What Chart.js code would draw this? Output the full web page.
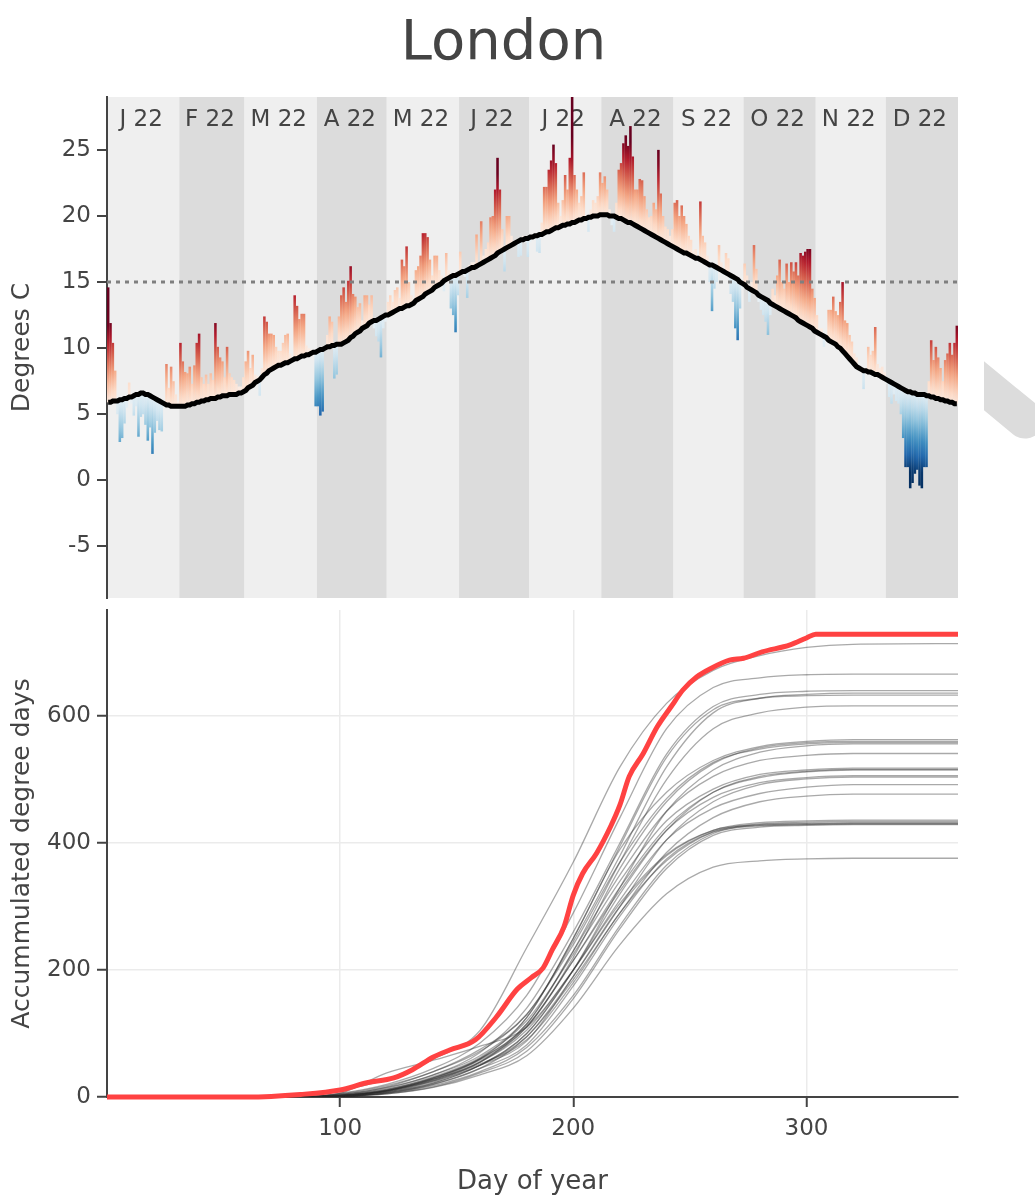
<!DOCTYPE html>
<html>
<head>
<meta charset="utf-8">
<title>London</title>
<script src="https://cdn.jsdelivr.net/npm/chart.js@4.4.1/dist/chart.umd.min.js"></script>
<style>
    html, body { margin: 0; padding: 0; background: #fff; }
    #wrap { position: relative; width: 1035px; height: 1198px; overflow: hidden; }
    #title { position: absolute; left: 0; top: 10px; width: 1007px; text-align: center;
             font: 56px/60px "DejaVu Sans", Verdana, sans-serif; color: #444; }
    #topChart { position: absolute; left: 0; top: 0; }
    #bottomChart { position: absolute; left: 0; top: 600px; }
    #mark { position: absolute; left: 0; top: 0; pointer-events: none; }
</style>
</head>
<body>
<div id="wrap">
    <canvas id="topChart" width="1035" height="600"></canvas>
    <canvas id="bottomChart" width="1035" height="598"></canvas>
    <div id="title">London</div>
    <svg id="mark" width="1035" height="1198">
        <defs><clipPath id="cut"><rect x="984" y="0" width="60" height="1198"></rect></clipPath></defs>
        <line x1="960" y1="366" x2="1025" y2="419.5" stroke="#dcdcdc" stroke-width="38" stroke-linecap="round" clip-path="url(#cut)"></line>
    </svg>
</div>
<script>
// London 2022 - daily temperature vs normal (top) and accumulated degree days (bottom)
var FONT = '"DejaVu Sans", Verdana, sans-serif';

// ---- top panel data ----
var monthLabels = ['J 22', 'F 22', 'M 22', 'A 22', 'M 22', 'J 22', 'J 22', 'A 22', 'S 22', 'O 22', 'N 22', 'D 22'];
var monthStarts = [1, 32, 60, 91, 121, 152, 182, 213, 244, 274, 305, 335, 366];
var tempTicks = [-5, 0, 5, 10, 15, 20, 25];
var refLevel = 15;

// daily temperature 2022 (deg C), day 1..365
var temps = [
    14.6, 11.9, 10.4, 8.3, 5.0, 2.9, 3.2,
    4.3, 5.5, 7.4, 5.8, 4.9, 5.6, 3.3,
    4.8, 5.0, 4.2, 3.0, 4.0, 2.0, 3.6,
    4.5, 3.8, 3.7, 5.5, 8.8, 7.0, 8.6,
    7.5, 6.5, 6.0, 10.4, 9.0, 8.2, 8.1,
    8.6, 7.3, 8.7, 10.4, 11.1, 7.8, 7.3,
    8.0, 7.3, 8.1, 7.6, 11.9, 10.1, 9.3,
    9.0, 7.8, 10.1, 8.1, 7.8, 7.6, 7.3,
    7.1, 7.1, 7.8, 9.0, 9.8, 8.5, 9.5,
    8.0, 7.9, 6.4, 8.5, 12.4, 12.0, 11.1,
    11.1, 11.0, 10.1, 9.8, 9.8, 10.4, 11.0,
    11.1, 9.6, 9.4, 14.0, 13.2, 12.2, 12.6,
    12.6, 10.2, 10.0, 9.9, 9.5, 5.6, 5.6,
    4.9, 5.2, 9.8, 11.0, 12.4, 12.0, 7.7,
    8.0, 12.4, 14.0, 14.6, 13.5, 15.1, 16.2,
    14.1, 13.9, 13.1, 13.4, 12.1, 14.0, 14.0,
    13.3, 14.0, 11.5, 10.9, 10.5, 9.3, 11.5,
    12.0, 13.5, 14.0, 13.5, 14.4, 14.6, 13.8,
    16.7, 16.2, 17.7, 15.0, 14.0, 13.8, 15.9,
    16.2, 17.0, 18.7, 18.7, 18.4, 16.7, 15.5,
    17.0, 17.0, 15.9, 15.5, 14.3, 17.2, 15.9,
    13.0, 12.5, 11.2, 14.0, 17.3, 16.0, 15.4,
    13.8, 16.3, 16.5, 16.5, 18.6, 16.0, 19.6,
    17.0, 17.5, 18.0, 19.9, 20.0, 22.0, 24.4,
    22.0, 19.0, 15.8, 20.0, 20.0, 18.5, 18.0,
    18.2, 16.9, 17.0, 18.5, 18.0, 16.9, 18.0,
    18.6, 18.2, 17.3, 17.2, 19.5, 22.2, 22.2,
    23.5, 24.2, 25.4, 24.0, 21.0, 20.0, 21.2,
    23.1, 22.0, 24.4, 29.3, 23.1, 22.0, 21.0,
    21.5, 23.3, 20.0, 18.8, 20.5, 21.2, 21.0,
    21.5, 23.3, 22.5, 23.0, 22.0, 20.5, 19.3,
    18.8, 21.0, 23.5, 24.0, 25.5, 26.1, 25.3,
    26.8, 24.5, 22.0, 22.0, 22.8, 22.7, 21.5,
    20.5, 19.9, 20.0, 21.0, 20.5, 25.0, 21.7,
    20.0, 19.2, 19.0, 18.5, 19.0, 21.0, 21.2,
    20.0, 20.8, 20.0, 19.4, 18.5, 18.2, 17.4,
    17.5, 17.0, 21.1, 18.5, 18.0, 17.0, 15.0,
    12.8, 14.5, 15.0, 17.8, 16.5, 15.5, 17.2,
    16.8, 14.1, 13.5, 11.5, 10.6, 13.0, 14.5,
    16.4, 15.5, 13.5, 15.0, 17.8, 16.0, 13.5,
    12.9, 12.5, 12.0, 11.0, 12.5, 14.5, 14.0,
    15.5, 16.7, 15.0, 14.5, 16.4, 15.0, 16.5,
    15.8, 16.5, 15.5, 17.2, 17.0, 17.3, 17.5,
    17.5, 14.5, 13.8, 12.5, 11.5, 11.5, 10.1,
    10.5, 12.9, 12.9, 13.9, 12.8, 12.5, 13.5,
    15.0, 12.1, 11.9, 11.0, 10.5, 9.6, 9.3,
    8.5, 8.6, 6.9, 8.5, 10.1, 9.5, 9.8,
    11.6, 8.8, 8.5, 8.6, 8.2, 7.3, 6.3,
    5.8, 6.5, 6.0, 5.8, 5.0, 3.2, 1.0,
    1.0, -0.6, -0.2, 0.5, 0.8, -0.4, -0.6,
    1.0, 1.0, 7.5, 10.6, 9.1, 10.1, 9.3,
    8.5, 7.5, 9.1, 9.6, 10.4, 9.5, 10.4,
    11.7
];

// long-term normal for each day (black line)
var normal = [
    5.9, 5.9, 6.0, 6.0, 6.0, 6.1, 6.1,
    6.2, 6.2, 6.3, 6.3, 6.4, 6.5, 6.5,
    6.6, 6.6, 6.5, 6.5, 6.4, 6.3, 6.2,
    6.1, 6.0, 5.9, 5.8, 5.7, 5.7, 5.6,
    5.6, 5.6, 5.6, 5.6, 5.6, 5.6, 5.7,
    5.7, 5.8, 5.8, 5.9, 5.9, 6.0, 6.0,
    6.1, 6.1, 6.2, 6.2, 6.2, 6.3, 6.3,
    6.4, 6.4, 6.4, 6.5, 6.5, 6.5, 6.5,
    6.6, 6.6, 6.7, 6.8, 7.0, 7.1, 7.2,
    7.4, 7.5, 7.6, 7.8, 8.0, 8.1, 8.3,
    8.4, 8.5, 8.6, 8.7, 8.7, 8.8, 8.9,
    8.9, 9.0, 9.1, 9.2, 9.2, 9.3, 9.4,
    9.4, 9.5, 9.5, 9.6, 9.7, 9.7, 9.8,
    9.9, 9.9, 10.0, 10.1, 10.1, 10.2, 10.2,
    10.3, 10.3, 10.3, 10.4, 10.5, 10.6, 10.8,
    10.9, 11.1, 11.2, 11.3, 11.5, 11.6, 11.7,
    11.9, 12.0, 12.1, 12.1, 12.2, 12.3, 12.4,
    12.5, 12.5, 12.6, 12.7, 12.8, 12.9, 13.0,
    13.0, 13.1, 13.2, 13.2, 13.3, 13.4, 13.6,
    13.7, 13.8, 13.9, 14.1, 14.2, 14.3, 14.4,
    14.6, 14.7, 14.8, 14.9, 15.1, 15.2, 15.3,
    15.4, 15.5, 15.5, 15.6, 15.7, 15.8, 15.8,
    15.9, 16.0, 16.1, 16.1, 16.2, 16.3, 16.4,
    16.5, 16.6, 16.7, 16.8, 16.9, 17.0, 17.2,
    17.3, 17.4, 17.5, 17.6, 17.7, 17.8, 17.9,
    18.0, 18.1, 18.2, 18.2, 18.3, 18.3, 18.4,
    18.4, 18.5, 18.5, 18.6, 18.6, 18.7, 18.8,
    18.8, 18.9, 19.0, 19.1, 19.1, 19.2, 19.3,
    19.3, 19.4, 19.4, 19.5, 19.5, 19.6, 19.7,
    19.7, 19.8, 19.8, 19.9, 19.9, 20.0, 20.0,
    20.0, 20.1, 20.1, 20.1, 20.1, 20.0, 20.0,
    20.0, 19.9, 19.8, 19.8, 19.7, 19.6, 19.5,
    19.5, 19.4, 19.3, 19.2, 19.1, 19.0, 18.9,
    18.8, 18.7, 18.6, 18.5, 18.4, 18.3, 18.2,
    18.1, 18.0, 17.9, 17.8, 17.7, 17.6, 17.5,
    17.4, 17.3, 17.2, 17.2, 17.1, 17.0, 16.9,
    16.8, 16.8, 16.7, 16.6, 16.5, 16.4, 16.3,
    16.3, 16.2, 16.1, 16.0, 15.9, 15.8, 15.7,
    15.6, 15.5, 15.4, 15.3, 15.2, 15.0, 14.9,
    14.8, 14.6, 14.5, 14.4, 14.3, 14.2, 14.0,
    13.9, 13.8, 13.7, 13.6, 13.4, 13.3, 13.2,
    13.1, 13.0, 12.9, 12.8, 12.7, 12.6, 12.5,
    12.4, 12.3, 12.1, 12.0, 11.9, 11.8, 11.7,
    11.6, 11.5, 11.3, 11.2, 11.1, 11.0, 10.9,
    10.8, 10.6, 10.5, 10.4, 10.3, 10.1, 10.0,
    9.8, 9.6, 9.4, 9.2, 9.0, 8.8, 8.6,
    8.5, 8.4, 8.3, 8.3, 8.2, 8.2, 8.1,
    8.0, 8.0, 7.9, 7.8, 7.7, 7.6, 7.5,
    7.4, 7.3, 7.2, 7.1, 7.0, 6.9, 6.8,
    6.7, 6.7, 6.6, 6.6, 6.5, 6.5, 6.5,
    6.5, 6.4, 6.4, 6.3, 6.3, 6.2, 6.2,
    6.1, 6.1, 6.0, 6.0, 5.9, 5.9, 5.8,
    5.8
];

// ---- bottom panel data ----
var dayTicks = [100, 200, 300];
var ddTicks = [0, 200, 400, 600];
var sampleDays = [0, 80, 100, 120, 140, 160, 180, 200, 220, 240, 260, 280, 300, 320, 365];
// earlier years, accumulated degree days at sampleDays
var pastYears = [
    [0, 0, 10, 28, 60, 105, 235, 370, 520, 620, 672, 695, 708, 713, 714],
    [0, 0, 6, 20, 45, 85, 160, 290, 440, 580, 645, 660, 665, 666, 666],
    [0, 0, 4, 15, 35, 70, 140, 260, 400, 540, 615, 634, 639, 640, 640],
    [0, 0, 5, 18, 40, 75, 130, 245, 380, 520, 605, 628, 634, 636, 636],
    [0, 0, 3, 12, 30, 60, 125, 250, 395, 535, 610, 628, 632, 633, 633],
    [0, 0, 2, 10, 28, 55, 115, 230, 370, 500, 580, 605, 614, 616, 616],
    [0, 0, 3, 14, 35, 65, 125, 250, 390, 480, 530, 552, 560, 563, 563],
    [0, 0, 2, 10, 28, 58, 110, 220, 360, 465, 525, 550, 558, 560, 560],
    [0, 0, 4, 16, 40, 72, 130, 240, 370, 470, 527, 548, 556, 558, 558],
    [0, 0, 1, 8, 22, 50, 100, 200, 330, 450, 515, 543, 553, 556, 556],
    [0, 0, 2, 10, 30, 60, 115, 230, 350, 450, 505, 530, 538, 541, 541],
    [0, 0, 3, 12, 32, 62, 120, 225, 340, 435, 485, 508, 515, 518, 518],
    [0, 0, 1, 7, 22, 50, 100, 200, 320, 420, 480, 505, 513, 516, 516],
    [0, 0, 2, 9, 26, 55, 110, 215, 330, 425, 480, 503, 512, 515, 515],
    [0, 0, 2, 11, 30, 60, 112, 215, 325, 420, 472, 495, 503, 506, 506],
    [0, 0, 1, 6, 20, 45, 95, 190, 300, 405, 465, 492, 501, 504, 504],
    [0, 0, 2, 10, 28, 55, 105, 200, 310, 405, 455, 478, 488, 492, 492],
    [0, 0, 1, 8, 24, 50, 95, 185, 290, 385, 440, 465, 474, 477, 477],
    [0, 0, 2, 9, 25, 50, 88, 190, 300, 380, 420, 432, 435, 436, 436],
    [0, 0, 1, 7, 20, 45, 82, 175, 285, 375, 418, 430, 433, 434, 434],
    [0, 0, 6, 38, 58, 80, 110, 200, 305, 382, 420, 429, 431, 432, 432],
    [0, 0, 1, 6, 18, 40, 78, 160, 270, 365, 415, 428, 430, 431, 431],
    [0, 0, 2, 10, 26, 52, 90, 180, 290, 372, 417, 427, 429, 430, 430],
    [0, 0, 1, 5, 16, 38, 72, 155, 265, 360, 412, 425, 428, 429, 429],
    [0, 0, 1, 5, 15, 35, 65, 140, 240, 320, 362, 372, 375, 376, 376]
];
// 2022
var days2022 = [0, 60, 83, 100, 111, 123, 131, 140, 147, 158, 167, 176, 182, 187, 191, 196, 200, 204, 210, 216, 220, 224, 230, 236, 242, 247, 253, 259, 267, 273, 281, 293, 300, 304, 365];
var dd2022 = [0, 0, 4, 11, 22, 30, 43, 63, 74, 90, 126, 170, 188, 203, 232, 268, 318, 352, 384, 426, 460, 505, 541, 583, 615, 641, 662, 675, 688, 691, 701, 712, 723, 729, 729];

// ---- colours ----
var rdbu = [[5, 48, 97], [33, 102, 172], [67, 147, 195], [146, 197, 222], [209, 229, 240], [247, 247, 247],
            [253, 219, 199], [244, 165, 130], [214, 96, 77], [178, 24, 43], [103, 0, 31]];

function devColour(dev) {
    var t = Math.max(-1, Math.min(1, dev / 6.2));
    var p = (t + 1) / 2 * 10;
    var i = Math.min(9, Math.floor(p));
    var f = p - i;
    var a = rdbu[i], b = rdbu[i + 1];
    return 'rgb(' + Math.round(a[0] + (b[0] - a[0]) * f) + ',' + Math.round(a[1] + (b[1] - a[1]) * f) + ',' + Math.round(a[2] + (b[2] - a[2]) * f) + ')';
}

function barFill(context) {
    var chart = context.chart;
    if (!chart.chartArea || context.type !== 'data') return '#ccc';
    var i = context.dataIndex;
    var dev = temps[i] - normal[i];
    var yScale = chart.scales.y;
    var y0 = yScale.getPixelForValue(normal[i]);
    var y1 = yScale.getPixelForValue(temps[i]);
    if (Math.abs(y1 - y0) < 0.5) return devColour(dev);
    var g = chart.ctx.createLinearGradient(0, y0, 0, y1);
    var start = dev > 0 ? 0.7 : -0.7;
    for (var k = 0; k <= 6; k++) g.addColorStop(k / 6, devColour(start + (dev - start) * k / 6));
    return g;
}

// month shading + labels behind the bars
var monthBands = {
    id: 'monthBands',
    beforeDraw: function (chart) {
        var c = chart.ctx, a = chart.chartArea, x = chart.scales.x;
        c.save();
        for (var i = 0; i < monthLabels.length; i++) {
            var x0 = x.getPixelForValue(monthStarts[i] - 0.5);
            var x1 = x.getPixelForValue(monthStarts[i + 1] - 0.5);
            c.fillStyle = (i % 2) ? '#dcdcdc' : '#efefef';
            c.fillRect(x0, a.top, x1 - x0, a.bottom - a.top);
        }
        c.fillStyle = '#444';
        c.font = '23px ' + FONT;
        c.textAlign = 'center';
        c.textBaseline = 'middle';
        for (var j = 0; j < monthLabels.length; j++) {
            var m0 = x.getPixelForValue(monthStarts[j] - 0.5);
            var m1 = x.getPixelForValue(monthStarts[j + 1] - 0.5);
            c.fillText(monthLabels[j], (m0 + m1) / 2 - 2, a.top + 23);
        }
        c.restore();
    }
};

Chart.defaults.font.family = FONT;
Chart.defaults.color = '#444';

var dayIndex = [];
for (var d = 1; d <= temps.length; d++) dayIndex.push(d);

var barData = dayIndex.map(function (day, i) { return { x: day, y: [normal[i], temps[i]] }; });
var normalData = dayIndex.map(function (day, i) { return { x: day, y: normal[i] }; });

var topChart = new Chart(document.getElementById('topChart'), {
    type: 'bar',
    data: {
        datasets: [
            { type: 'line', data: normalData, borderColor: '#000', borderWidth: 5, pointRadius: 0, order: 1 },
            { type: 'line', data: [{ x: 0.5, y: refLevel }, { x: 365.5, y: refLevel }], borderColor: '#7f7f7f',
              borderWidth: 3, borderDash: [4, 5], pointRadius: 0, order: 2 },
            { type: 'bar', data: barData, backgroundColor: barFill, borderWidth: 0, borderSkipped: false,
              barPercentage: 1.1, categoryPercentage: 1, order: 3 }
        ]
    },
    options: {
        responsive: false,
        animation: false,
        devicePixelRatio: 1,
        layout: { padding: { left: 0, right: 77, top: 97, bottom: 2 } },
        plugins: { legend: { display: false }, tooltip: { enabled: false } },
        scales: {
            x: { type: 'linear', min: 0.5, max: 365.5, offset: false, display: false, grid: { offset: false } },
            y: {
                min: -8.9, max: 29,
                afterBuildTicks: function (s) { s.ticks = tempTicks.map(function (v) { return { value: v }; }); },
                afterFit: function (s) { s.width = 107; s.paddingTop = 0; s.paddingBottom = 0; },
                border: { display: true, color: '#444', width: 2 },
                grid: { drawOnChartArea: false, drawTicks: true, tickLength: 10, color: '#444', lineWidth: 2 },
                ticks: { color: '#444', font: { size: 23 }, padding: 6 },
                title: { display: true, text: 'Degrees C', color: '#444', font: { size: 25 }, padding: { top: 7, bottom: 0 } }
            }
        }
    },
    plugins: [monthBands]
});

var lineSets = pastYears.map(function (row) {
    return {
        data: sampleDays.map(function (day, k) { return { x: day, y: row[k] }; }),
        borderColor: 'rgba(40,40,40,0.4)', borderWidth: 1.3, pointRadius: 0,
        cubicInterpolationMode: 'monotone', order: 2
    };
});
lineSets.push({
    data: days2022.map(function (day, k) { return { x: day, y: dd2022[k] }; }),
    borderColor: '#ff4242', borderWidth: 5, pointRadius: 0,
    cubicInterpolationMode: 'monotone', order: 1, clip: 4
});

var bottomChart = new Chart(document.getElementById('bottomChart'), {
    type: 'line',
    data: { datasets: lineSets },
    options: {
        responsive: false,
        animation: false,
        devicePixelRatio: 1,
        layout: { padding: { left: 0, right: 77, top: 10, bottom: 0 } },
        plugins: { legend: { display: false }, tooltip: { enabled: false } },
        scales: {
            x: {
                type: 'linear', min: 0, max: 365,
                afterBuildTicks: function (s) { s.ticks = dayTicks.map(function (v) { return { value: v }; }); },
                afterFit: function (s) { s.height = 101; s.paddingLeft = 0; s.paddingRight = 0; },
                border: { display: true, color: '#444', width: 2 },
                grid: { color: '#ebebeb', lineWidth: 1.5, tickColor: '#444', tickWidth: 2, tickLength: 10 },
                ticks: { color: '#444', font: { size: 23 }, padding: 8, maxRotation: 0 },
                title: { display: true, text: 'Day of year', color: '#444', font: { size: 26 }, padding: { top: 0, bottom: 0 } }
            },
            y: {
                min: 0, max: 767,
                afterBuildTicks: function (s) { s.ticks = ddTicks.map(function (v) { return { value: v }; }); },
                afterFit: function (s) { s.width = 107; s.paddingTop = 0; s.paddingBottom = 0; },
                border: { display: true, color: '#444', width: 2 },
                grid: { color: '#ebebeb', lineWidth: 1.5, tickColor: '#444', tickWidth: 2, tickLength: 10 },
                ticks: { color: '#444', font: { size: 23 }, padding: 6 },
                title: { display: true, text: 'Accummulated degree days', color: '#444', font: { size: 25 }, padding: { top: 7, bottom: 0 } }
            }
        }
    }
});
</script>
</body>
</html>
